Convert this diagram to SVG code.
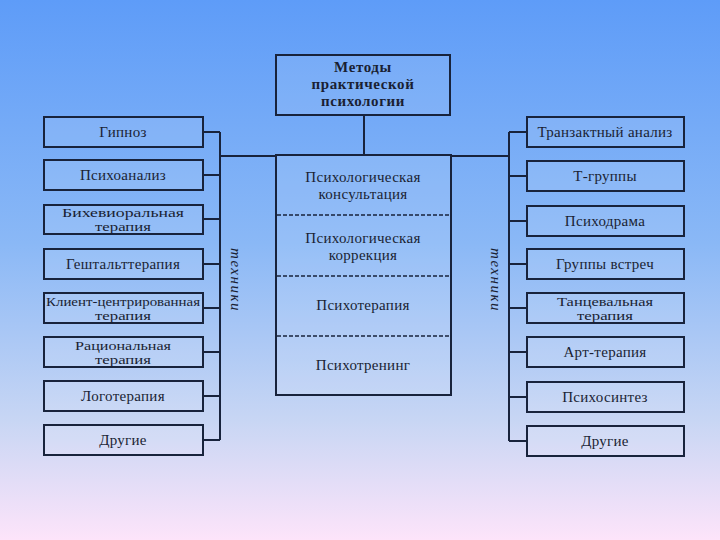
<svg xmlns="http://www.w3.org/2000/svg" width="720" height="540" viewBox="0 0 720 540">
<defs>
<linearGradient id="bg" x1="0" y1="0" x2="0" y2="1">
<stop offset="0" stop-color="#5e9cf8"/>
<stop offset="0.45" stop-color="#8ab8f6"/>
<stop offset="0.78" stop-color="#c8d6f4"/>
<stop offset="1" stop-color="#fde4fa"/>
</linearGradient>
<style>
.box{fill:#ffffff;fill-opacity:0.1;stroke:#18233c;stroke-width:2}
.ln{stroke:#18233c;stroke-width:2;fill:none}
.dash{stroke:#18233c;stroke-width:1.3;stroke-dasharray:4 2;fill:none}
text{font-family:"Liberation Serif","DejaVu Serif",serif;font-size:15px;letter-spacing:0.3px;fill:#1a1f33;text-anchor:middle}
.b{font-weight:bold;font-size:15px;letter-spacing:0.6px}
.sm{font-size:12.5px;letter-spacing:0}
.it{font-style:italic;font-size:15px;letter-spacing:1.5px}
</style>
</defs>
<rect x="0" y="0" width="720" height="540" fill="url(#bg)"/>

<g id="connectors">
<line class="ln" x1="364" y1="115" x2="364" y2="155"/>
<line class="ln" x1="220" y1="156" x2="276" y2="156"/>
<line class="ln" x1="451" y1="156" x2="509" y2="156"/>
<line class="ln" x1="220" y1="132" x2="220" y2="440"/>
<line class="ln" x1="203" y1="132" x2="220" y2="132"/>
<line class="ln" x1="203" y1="175" x2="220" y2="175"/>
<line class="ln" x1="203" y1="219" x2="220" y2="219"/>
<line class="ln" x1="203" y1="264" x2="220" y2="264"/>
<line class="ln" x1="203" y1="308" x2="220" y2="308"/>
<line class="ln" x1="203" y1="352" x2="220" y2="352"/>
<line class="ln" x1="203" y1="396" x2="220" y2="396"/>
<line class="ln" x1="203" y1="440" x2="220" y2="440"/>
<line class="ln" x1="509" y1="132" x2="509" y2="441"/>
<line class="ln" x1="509" y1="132" x2="527" y2="132"/>
<line class="ln" x1="509" y1="176" x2="527" y2="176"/>
<line class="ln" x1="509" y1="221" x2="527" y2="221"/>
<line class="ln" x1="509" y1="264" x2="527" y2="264"/>
<line class="ln" x1="509" y1="308" x2="527" y2="308"/>
<line class="ln" x1="509" y1="352" x2="527" y2="352"/>
<line class="ln" x1="509" y1="397" x2="527" y2="397"/>
<line class="ln" x1="509" y1="441" x2="527" y2="441"/>
</g>

<g id="top">
<rect class="box" x="276" y="55" width="174" height="60"/>
<text class="b" x="363" y="72">Методы</text>
<text class="b" x="363" y="89">практической</text>
<text class="b" x="363" y="106">психологии</text>
</g>

<g id="center">
<rect class="box" x="276" y="155" width="175" height="240"/>
<line class="dash" x1="277" y1="215" x2="450" y2="215"/>
<line class="dash" x1="277" y1="276" x2="450" y2="276"/>
<line class="dash" x1="277" y1="336" x2="450" y2="336"/>
<text x="363" y="182">Психологическая</text>
<text x="363" y="199">консультация</text>
<text x="363" y="243">Психологическая</text>
<text x="363" y="260">коррекция</text>
<text x="363" y="310">Психотерапия</text>
<text x="363" y="370">Психотренинг</text>
</g>

<g id="left">
<g id="l1"><rect class="box" x="44" y="117" width="159" height="30"/><text x="123" y="137">Гипноз</text></g>
<g id="l2"><rect class="box" x="44" y="160" width="159" height="30"/><text x="123" y="180">Психоанализ</text></g>
<g id="l3"><rect class="box" x="44" y="205" width="159" height="29"/><text class="sm" x="123" y="217" textLength="122" lengthAdjust="spacingAndGlyphs">Бихевиоральная</text><text class="sm" x="123" y="231" textLength="56" lengthAdjust="spacingAndGlyphs">терапия</text></g>
<g id="l4"><rect class="box" x="44" y="249" width="159" height="30"/><text x="123" y="269">Гештальттерапия</text></g>
<g id="l5"><rect class="box" x="44" y="293" width="159" height="30"/><text class="sm" x="123" y="305.5" textLength="154" lengthAdjust="spacingAndGlyphs">Клиент-центрированная</text><text class="sm" x="123" y="319.5" textLength="56" lengthAdjust="spacingAndGlyphs">терапия</text></g>
<g id="l6"><rect class="box" x="44" y="337" width="159" height="30"/><text class="sm" x="123" y="349.5" textLength="96" lengthAdjust="spacingAndGlyphs">Рациональная</text><text class="sm" x="123" y="363.5" textLength="56" lengthAdjust="spacingAndGlyphs">терапия</text></g>
<g id="l7"><rect class="box" x="44" y="381" width="159" height="30"/><text x="123" y="401">Логотерапия</text></g>
<g id="l8"><rect class="box" x="44" y="425" width="159" height="30"/><text x="123" y="445">Другие</text></g>
<text class="it" transform="translate(231,280) rotate(90)" x="0" y="0">техники</text>
</g>

<g id="right">
<g id="r1"><rect class="box" x="527" y="117" width="157" height="30"/><text x="605" y="137">Транзактный анализ</text></g>
<g id="r2"><rect class="box" x="527" y="161" width="157" height="30"/><text x="605" y="181">Т-группы</text></g>
<g id="r3"><rect class="box" x="527" y="206" width="157" height="30"/><text x="605" y="226">Психодрама</text></g>
<g id="r4"><rect class="box" x="527" y="249" width="157" height="30"/><text x="605" y="269">Группы встреч</text></g>
<g id="r5"><rect class="box" x="527" y="293" width="157" height="30"/><text class="sm" x="605" y="305.5" textLength="96" lengthAdjust="spacingAndGlyphs">Танцевальная</text><text class="sm" x="605" y="319.5" textLength="56" lengthAdjust="spacingAndGlyphs">терапия</text></g>
<g id="r6"><rect class="box" x="527" y="337" width="157" height="30"/><text x="605" y="357">Арт-терапия</text></g>
<g id="r7"><rect class="box" x="527" y="382" width="157" height="30"/><text x="605" y="402">Психосинтез</text></g>
<g id="r8"><rect class="box" x="527" y="426" width="157" height="30"/><text x="605" y="446">Другие</text></g>
<text class="it" transform="translate(491,280) rotate(90)" x="0" y="0">техники</text>
</g>
</svg>
